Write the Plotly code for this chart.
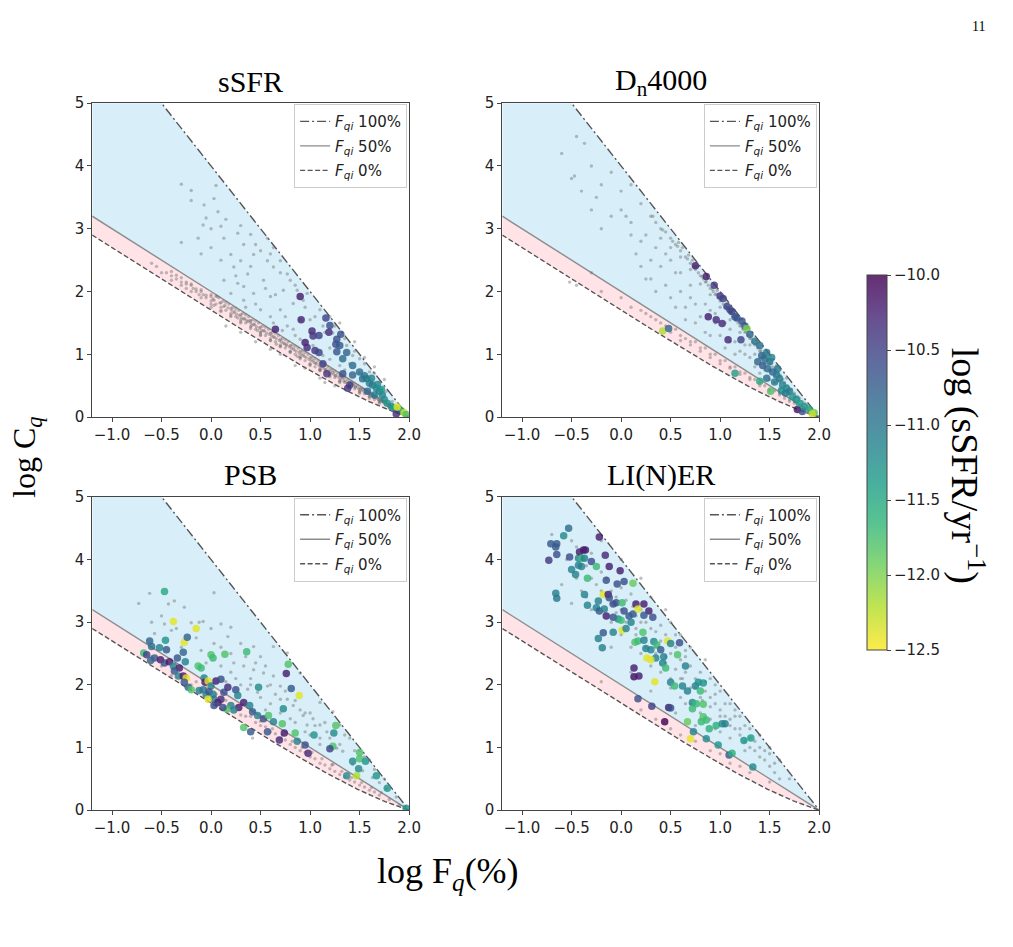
import numpy as np
import plotly.graph_objects as go

# ---------------- data ----------------
PANEL_TITLES = ["sSFR", "D<sub>n</sub>4000", "PSB", "LI(N)ER"]
X_TICKS = [-1.0, -0.5, 0.0, 0.5, 1.0, 1.5, 2.0]
Y_TICKS = [0, 1, 2, 3, 4, 5]
CBAR_TICKS = [-10.0, -10.5, -11.0, -11.5, -12.0, -12.5]
FQI_LABELS = ["100%", "50%", "0%"]

# background (all galaxies) points, panel sSFR
SSFR_BG = [(-0.3,3.71),(-0.2,3.61),(-0.2,3.45),(0.05,3.69),(0.03,3.48),(-0.05,3.17),(-0.08,3.06),(0.07,3.27),
           (0.1,3.04),(0.27,2.93),(0.4,2.91),(0.33,2.75),(0.2,2.59),(0.43,2.59),(0.5,2.65),(0.57,2.49),(0.63,2.39),
           (0.77,2.28),(0.8,2.18),(0.73,2.02),(0.53,2.18),(0.37,2.28),(0.27,2.13),(0.2,1.97),(0.33,1.86),(0.43,1.97),
           (0.6,1.92),(0.5,1.71),(0.7,1.71),(0.83,1.81),(0.93,1.86),(0.77,1.45),(0.83,1.40),(1.1,1.71),(1.13,1.45),
           (1.23,1.34),(1.3,1.5),(1.37,1.14),(1.43,0.98),(1.5,0.93),(1.6,0.72),(1.3,0.82),(1.13,0.98),(1.03,1.14),
           (0.9,1.24),(1.1,0.77),(1.7,0.56),(1.77,0.41),(1.83,0.25),(-0.3,2.78),(-0.13,2.85),(0.0,2.7),(0.13,2.85),
           (0.23,2.39),(0.3,2.49),(-0.07,3.38),(0.57,2.85),(0.63,2.7),(0.7,2.49),(0.87,2.02),(0.97,1.97),(0.5,1.34),
           (0.63,1.5),(0.33,2.08),(0.13,2.18),(1.2,1.6),(1.45,1.2),(1.55,0.85),(1.65,0.7),(1.0,1.55),
           (0.0,3.0),(0.15,3.15),(0.3,3.05),(0.45,2.75),(0.6,2.6),(0.7,2.3),(0.85,2.1),(0.95,1.75),(1.05,1.6),
           (1.15,1.35),(1.25,1.45),(1.35,1.25),(1.45,1.05),(1.55,0.95),(1.65,0.8),(1.75,0.6),(0.4,2.4),(0.55,2.05),
           (0.65,1.95),(0.75,1.6),(0.9,1.55),(1.0,1.35),(0.25,2.25),(0.1,2.5),(-0.1,2.6),(0.45,1.8),(0.6,1.6),
           (0.85,1.3),(1.2,1.1),(1.4,0.85),(1.6,0.6),(1.5,0.7),(1.35,0.75),(1.2,0.92),(0.35,1.75),(0.72,1.38),
           (-0.6,2.45),(-0.55,2.4),(-0.5,2.3),(-0.45,2.3),(-0.4,2.25),(-0.35,2.2),(-0.3,2.15),(-0.25,2.05),(-0.2,2.1),
           (-0.15,2.0),(-0.1,2.0),(-0.05,1.9),(0.0,1.85),(0.0,1.95),(0.05,1.8),(0.08,1.9),(0.1,1.75),(0.12,1.85),
           (0.15,1.7),(0.18,1.8),(0.2,1.65),(0.22,1.75),(0.25,1.6),(0.28,1.7),(0.3,1.55),(0.32,1.65),(0.35,1.5),
           (0.38,1.6),(0.4,1.5),(0.42,1.55),(0.45,1.4),(0.48,1.5),(0.5,1.35),(0.52,1.45),(0.55,1.3),(0.58,1.4),
           (0.6,1.25),(0.62,1.35),(0.65,1.2),(0.68,1.3),(0.7,1.15),(0.72,1.25),(0.75,1.1),(0.78,1.2),(0.8,1.05),
           (0.82,1.15),(0.85,1.0),(0.88,1.1),(0.9,0.95),(0.92,1.05),(0.95,0.9),(0.98,1.0),(1.0,0.85),(1.02,0.95),
           (1.05,0.8),(1.08,0.9),(1.1,0.75),(1.12,0.85),(1.15,0.72),(1.18,0.8),(1.2,0.68),(1.22,0.75),(1.25,0.63),
           (1.28,0.7),(1.3,0.58),(1.32,0.65),(1.35,0.55),(1.38,0.6),(1.4,0.5),(1.42,0.56),(1.45,0.45),(1.48,0.5),
           (1.5,0.4),(1.52,0.46),(1.55,0.37),(1.58,0.4),(1.6,0.33),(1.62,0.36),(1.65,0.28),(1.68,0.3),(1.7,0.24),
           (1.73,0.25),(1.76,0.2),(1.8,0.17),(1.84,0.13),(1.88,0.1),(1.92,0.06),(1.96,0.03),
           (0.15,1.45),(0.6,1.08),(0.85,0.82),(1.1,0.62),(1.15,0.55),(0.03,1.78),(0.27,1.58),(0.47,1.38),(0.66,1.16),
           (0.87,0.97),(1.06,0.86),(1.26,0.66),(1.46,0.48),(1.64,0.32),(-0.12,1.95),(0.36,1.54),(0.76,1.14),(1.16,0.76),
           (-0.25,2.15),(-0.18,2.05),(-0.08,1.95),(0.02,1.88),(0.06,1.92),(0.09,1.82),(0.14,1.78),(0.17,1.74),(0.21,1.7),
           (0.24,1.68),(0.26,1.64),(0.29,1.62),(0.31,1.58),(0.34,1.57),(0.37,1.52),(0.39,1.54),(0.41,1.46),(0.44,1.47),
           (0.46,1.44),(0.49,1.42),(0.51,1.38),(0.54,1.37),(0.56,1.34),(0.59,1.32),(0.61,1.3),(0.64,1.27),(0.66,1.25),
           (0.69,1.22),(0.71,1.2),(0.74,1.17),(0.76,1.16),(0.79,1.12),(0.81,1.1),(0.84,1.07),(0.86,1.05),(0.89,1.02),
           (0.91,1.0),(0.94,0.97),(0.96,0.95),(0.99,0.92),(1.01,0.9),(1.04,0.87),(1.06,0.85),(1.09,0.82),(1.11,0.8),
           (1.14,0.77),(1.16,0.75),(1.19,0.72),(1.21,0.7),(1.24,0.68),(1.26,0.66),(1.29,0.63),(1.31,0.61),(1.34,0.58),
           (1.36,0.57),(1.39,0.54),(1.41,0.52),(1.44,0.5),(1.46,0.48),(1.49,0.45),(1.51,0.43),(1.54,0.41),(1.56,0.39),
           (1.59,0.37),(1.61,0.35),(1.64,0.32),(1.66,0.31),(1.69,0.28),(1.71,0.27),(1.74,0.23),(1.78,0.21),(1.82,0.16),
           (1.86,0.12),(1.9,0.09),
           (0.0,1.75),(0.1,1.68),(0.2,1.62),(0.3,1.52),(0.4,1.44),(0.5,1.3),(0.6,1.22),(0.7,1.13),(0.8,1.04),(0.9,0.96),
           (1.0,0.82),(1.1,0.74),(1.2,0.64),(1.3,0.55),(1.4,0.47),(1.5,0.38),(1.6,0.3),(1.7,0.22),
           (0.05,1.93),(0.15,1.83),(0.25,1.73),(0.35,1.63),(0.45,1.53),(0.55,1.43),(0.65,1.33),(0.75,1.23),(0.85,1.13),
           (0.95,1.03),(1.05,0.93),(1.15,0.83),(1.25,0.73),(1.35,0.63),(1.45,0.53),(1.55,0.44),(1.65,0.34),(1.75,0.25),
           (0.3,1.35),(0.7,1.0),(0.95,0.78),(1.25,0.5),(0.45,1.2),
           (-0.4,2.32),(-0.4,2.18),(-0.3,2.22),(-0.3,2.1),(-0.2,2.12),(-0.2,2.0),(-0.1,2.03),(-0.1,1.9),(0.0,1.92),
           (0.0,1.8),(0.1,1.82),(0.1,1.7),(0.2,1.73),(0.2,1.6),(0.3,1.63),(0.3,1.5),(0.4,1.53),(0.4,1.41),(0.5,1.43),
           (0.5,1.31),(0.6,1.34),(0.6,1.22),(0.7,1.24),(0.7,1.12),(0.8,1.14),(0.8,1.03),(0.9,1.05),(0.9,0.93),
           (1.0,0.95),(1.0,0.84),(1.1,0.86),(1.1,0.75),(1.2,0.76),(1.2,0.66),(1.3,0.66),(1.3,0.57),(1.4,0.56),
           (1.4,0.49),(1.5,0.46),(1.5,0.41),(1.6,0.37),(1.6,0.33),(1.7,0.27),(1.7,0.25),(1.8,0.18),(1.8,0.16),
           (1.85,0.14),(1.85,0.12),
           (-0.35,2.26),(-0.25,2.12),(-0.15,2.04),(-0.05,1.94),(0.03,1.86),(0.13,1.76),(0.23,1.66),(0.33,1.56),
           (0.43,1.48),(0.53,1.38),(0.63,1.28),(0.73,1.18),(0.83,1.09),(0.93,0.99),(1.03,0.9),(1.13,0.8),(1.23,0.71),
           (1.33,0.62),(1.43,0.53),(1.53,0.44),(1.63,0.35),(1.73,0.26),(1.83,0.17)]

SSFR_COL = [(0.90,1.92,-10.2),(0.91,1.55,-10.25),(0.65,1.40,-10.2),(1.02,1.37,-10.3),(1.03,1.29,-10.4),(1.09,1.30,-10.5),
            (1.16,1.58,-10.5),(1.20,1.46,-10.6),(1.19,1.35,-10.3),(1.27,1.24,-10.6),(1.31,1.32,-10.6),(0.95,1.19,-10.2),
            (0.97,1.11,-10.3),(1.05,1.06,-10.4),(1.09,1.03,-10.5),(1.26,1.16,-10.6),(1.27,1.04,-10.7),(1.13,0.85,-10.5),
            (1.17,0.69,-10.4),(1.33,0.69,-10.6),(1.40,0.51,-10.5),(1.38,0.46,-10.4),(1.43,0.67,-10.8),(1.50,0.72,-10.9),
            (1.53,0.61,-10.9),(1.57,0.61,-11.0),(1.60,0.54,-11.1),(1.63,0.51,-11.0),(1.67,0.46,-11.1),(1.70,0.41,-11.2),
            (1.73,0.35,-11.1),(1.58,0.41,-10.8),(1.65,0.35,-11.0),(1.75,0.28,-11.2),(1.78,0.22,-11.3),(1.82,0.17,-11.2),
            (1.85,0.15,-11.4),(1.88,0.12,-11.3),(1.43,0.82,-10.9),(1.37,1.03,-10.8),(1.30,1.14,-10.7),(1.33,0.93,-10.9),
            (1.62,0.62,-11.1),(1.68,0.52,-11.2),(1.72,0.44,-11.3),(1.55,0.66,-11.0),(1.92,0.10,-11.5),(1.87,0.05,-10.3),
            (1.88,0.16,-12.4),(1.95,0.07,-12.3),(1.97,0.04,-11.8)]

DN_BG = [(0.3,3.2),(0.35,3.1),(0.4,3.0),(0.45,2.95),(0.5,2.85),(0.55,2.75),(0.6,2.65),(0.62,2.7),(0.65,2.55),(0.7,2.45),
         (0.72,2.5),(0.75,2.35),(0.78,2.3),(0.8,2.25),(0.83,2.2),(0.85,2.15),(0.88,2.1),(0.9,2.05),(0.93,2.0),(0.95,1.95),
         (0.98,1.9),(1.0,1.85),(1.03,1.8),(1.05,1.75),(1.08,1.7),(1.1,1.65),(1.13,1.6),(1.15,1.55),(1.18,1.5),(1.2,1.45),
         (1.23,1.4),(1.25,1.35),(1.28,1.3),(1.3,1.25),(1.33,1.2),(1.35,1.15),(1.38,1.1),(1.4,1.05),(1.43,1.0),(1.45,0.95),
         (1.48,0.9),(1.5,0.85),(1.53,0.8),(1.55,0.75),(1.58,0.7),(1.6,0.65),(1.65,0.55),(1.7,0.45),(1.75,0.38),(1.8,0.3),
         (1.85,0.22),(1.9,0.15),(0.58,2.78),(0.68,2.58),(0.77,2.4),(0.87,2.22),(0.97,2.02),(1.07,1.82),(1.17,1.62),
         (1.27,1.42),(1.37,1.22),(1.47,1.02),(1.57,0.82),(1.67,0.62),
         (0.32,3.2),(0.42,2.98),(0.52,2.8),(0.57,2.72),(0.67,2.52),(0.74,2.4),(0.82,2.24),(0.86,2.16),(0.92,2.04),
         (0.96,1.96),(1.01,1.86),(1.06,1.76),(1.11,1.66),(1.16,1.56),(1.21,1.46),(1.26,1.36),(1.31,1.26),(1.36,1.16),
         (1.41,1.06),(1.46,0.96),(1.51,0.86),(1.56,0.76),(1.61,0.66),(1.63,0.6),(1.68,0.5),(1.72,0.44),(1.78,0.33),
         (1.83,0.25),(1.88,0.18),(0.7,2.35),(0.8,2.12),(0.9,1.95),(1.0,1.75),(1.1,1.55),(1.2,1.35),(1.3,1.15),
         (1.4,0.95),(1.5,0.75),(1.6,0.58),(1.7,0.4),(0.6,2.55),(0.5,2.7),(0.4,2.85),
         (-0.5,3.8),(-0.25,3.5),(-0.1,3.9),(0.0,3.6),(-0.2,3.0),(0.05,3.2),(0.1,2.9),(0.2,3.4),(0.15,2.6),(0.3,2.5),
         (0.25,2.2),(0.4,2.4),(0.45,2.1),(0.55,2.3),(0.6,2.0),(0.5,1.9),(0.7,2.1),(0.75,1.8),(0.8,1.6),(0.9,1.7),
         (0.95,1.5),(1.0,1.3),(1.1,1.4),(1.15,1.2),(1.2,1.05),(1.3,0.95),(1.35,0.8),(1.4,0.7),(1.5,0.6),(1.6,0.45),
         (0.65,1.55),(0.85,1.35),(1.05,1.1),(0.35,2.0),(-0.3,3.3),(-0.4,3.6),(0.1,3.7),(-0.45,4.47),(-0.37,4.36),
         (-0.47,3.84),(0.2,2.8),(0.45,2.6),(1.25,1.15),(1.45,0.75),(1.55,0.55),
         (-0.6,4.2),(-0.3,4.0),(-0.2,3.7),(0.0,3.3),(0.1,3.1),(0.25,2.9),(0.35,2.7),(0.5,2.5),(0.6,2.3),(0.7,1.9),
         (0.85,1.8),(0.95,1.65),(1.05,1.5),(1.1,1.2),(1.25,1.0),(1.35,1.0),(1.45,0.85),(1.55,0.65),(0.55,1.75),
         (0.3,2.2),(0.2,2.4),(-0.1,3.2),(0.65,1.75),(0.75,1.5),(0.9,1.3),(1.15,1.0),
         (-0.3,2.3),(-0.2,2.0),(0.0,1.9),(0.1,1.75),(0.2,1.7),(0.3,1.6),(0.4,1.5),(0.45,1.45),(0.5,1.35),(0.55,1.4),
         (0.6,1.3),(0.65,1.25),(0.7,1.15),(0.75,1.2),(0.8,1.05),(0.85,1.1),(0.9,0.95),(0.95,1.0),(1.0,0.85),(1.05,0.9),
         (1.1,0.78),(1.15,0.8),(1.2,0.68),(1.25,0.7),(1.3,0.6),(1.35,0.6),(1.4,0.5),(1.45,0.5),(1.5,0.42),(1.55,0.42),
         (1.6,0.35),(1.65,0.3),(1.7,0.25),(1.75,0.22),(1.8,0.17),(1.85,0.12),(1.9,0.08),(-0.45,2.1),(-0.52,2.15),
         (0.25,1.65),(0.35,1.55),(0.6,1.22),(0.7,1.2),(0.8,1.1),(0.9,1.0),(1.0,0.9),(1.1,0.8),(1.2,0.72),(1.3,0.63),
         (1.4,0.55),(1.5,0.45),(1.6,0.38),(1.7,0.28),(1.75,0.25)]

DN_COL = [(0.75,2.41,-10.2),(0.86,2.24,-10.2),(0.94,2.10,-10.4),(1.00,1.93,-10.4),(1.03,1.89,-10.5),(1.07,1.76,-10.5),
          (1.10,1.71,-10.6),(1.12,1.68,-10.5),(1.15,1.60,-10.6),(1.17,1.58,-10.7),(1.22,1.53,-10.6),(1.25,1.45,-10.7),
          (1.27,1.41,-12.0),(1.30,1.32,-10.8),(1.35,1.21,-11.0),(1.40,1.14,-10.9),(0.88,1.60,-10.2),(0.96,1.55,-10.3),
          (1.02,1.49,-10.3),(1.08,1.23,-10.3),(1.21,1.23,-10.5),(0.42,1.37,-12.2),(0.48,1.41,-10.8),(1.15,0.70,-11.4),
          (1.40,0.57,-11.5),(1.51,0.41,-11.8),(1.78,0.12,-10.1),(1.83,0.09,-10.6),(1.42,0.98,-10.8),(1.45,0.93,-10.9),
          (1.43,0.82,-10.7),(1.48,0.77,-10.9),(1.50,0.88,-11.0),(1.53,0.72,-10.8),(1.57,0.67,-11.0),(1.60,0.61,-11.1),
          (1.55,0.56,-11.0),(1.63,0.51,-11.1),(1.67,0.46,-11.2),(1.70,0.41,-11.1),(1.73,0.33,-11.3),(1.77,0.28,-11.2),
          (1.80,0.22,-11.4),(1.85,0.17,-11.3),(1.90,0.12,-11.5),(1.95,0.07,-11.9),(1.47,1.03,-11.0),(1.52,0.95,-11.1),
          (1.38,0.88,-10.8),(1.58,0.77,-11.0),(1.47,0.62,-10.9),(1.62,0.42,-11.2),(1.66,0.38,-11.0),(1.93,0.05,-12.3)]

PSB_BG = [(-0.73,3.3),(-0.62,3.46),(-0.43,3.29),(-0.37,3.34),(-0.27,3.24),(-0.2,2.99),(-0.12,3.0),(-0.08,3.01),(0.03,3.47),
          (0.1,2.97),(0.2,2.92),(0.03,2.66),(0.17,2.77),(0.3,2.66),(0.43,2.61),(0.5,2.45),(0.23,2.35),(0.33,2.3),(0.43,2.24),
          (0.53,2.19),(0.63,2.14),(0.7,1.98),(0.57,1.98),(0.47,1.88),(0.37,1.93),(0.77,1.77),(0.83,1.67),(0.93,1.51),
          (1.03,1.46),(1.1,1.36),(1.17,1.25),(0.97,1.36),(1.1,1.15),(1.27,0.99),(1.33,0.94),(1.43,0.73),(1.53,0.63),
          (1.63,0.52),(1.7,0.44),(1.77,0.34),(1.87,0.21),(-0.4,2.87),(-0.57,2.82),(-0.47,2.97),(0.63,2.61),(0.77,2.51),
          (0.9,2.19),(0.8,1.46),(0.7,1.77),(1.1,1.72),(1.23,1.57),(1.3,1.36),(1.4,1.15),(1.23,0.73),(-0.1,2.55),
          (0.1,2.3),(0.25,2.1),(0.4,2.0),(0.6,1.7),(0.85,1.4),(1.0,1.2),(-0.3,2.6),(0.15,2.05),(0.55,1.6),(0.95,1.55),
          (1.5,0.95),(1.6,0.8),
          (-0.6,3.0),(-0.5,3.1),(-0.35,2.9),(-0.15,2.75),(0.0,2.9),(0.1,2.6),(0.2,2.5),(0.35,2.45),(0.45,2.35),
          (0.55,2.3),(0.6,2.0),(0.65,1.85),(0.75,1.9),(0.85,1.75),(0.9,1.6),(1.0,1.55),(1.05,1.35),(1.15,1.4),
          (1.2,1.15),(1.3,1.05),(1.35,1.2),(1.45,0.95),(1.55,0.85),(1.65,0.65),(1.75,0.5),(0.4,2.1),(0.2,2.2),
          (-0.05,2.35),(0.5,1.8),(0.3,2.0),(0.7,1.55),(0.95,1.25),(1.1,1.05),
          (-0.5,2.3),(-0.4,2.15),(-0.3,2.1),(-0.2,2.0),(-0.1,1.9),(0.0,1.8),(0.1,1.72),(0.2,1.62),
          (0.3,1.52),(0.35,1.5),(0.45,1.4),(0.5,1.35),(0.55,1.33),(0.6,1.25),(0.65,1.22),(0.7,1.15),(0.75,1.12),(0.8,1.05),
          (0.85,1.0),(0.9,0.95),(0.95,0.92),(1.0,0.85),(1.05,0.82),(1.1,0.75),(1.15,0.72),(1.2,0.66),(1.25,0.62),
          (1.3,0.57),(1.35,0.53),(1.4,0.48),(1.45,0.45),(1.5,0.4),(1.55,0.37),(1.6,0.32),(1.65,0.29),(1.7,0.24),
          (1.8,0.17),(1.9,0.08),(0.42,1.15),
          (-0.6,2.45),(-0.45,2.35),(-0.35,2.25),(-0.25,2.15),(-0.15,2.05),(-0.05,1.95),(0.05,1.85),(0.15,1.75),
          (0.25,1.65),(0.4,1.5),(0.5,1.42),(0.62,1.3),(0.72,1.2),(0.82,1.1),(0.92,1.0),(1.02,0.92),(1.12,0.82),
          (1.22,0.72),(1.32,0.62),(1.42,0.52),(1.52,0.44),(1.62,0.36),(1.72,0.28)]

PSB_COL = [(-0.47,3.49,-11.5),(-0.38,3.01,-12.4),(-0.15,2.90,-12.4),(-0.27,2.68,-12.4),(-0.46,2.71,-11.3),(-0.24,2.76,-10.8),
           (-0.62,2.70,-10.8),(-0.60,2.61,-10.9),(-0.52,2.59,-11.1),(-0.45,2.56,-10.7),(-0.68,2.51,-11.7),(-0.65,2.48,-10.5),
           (-0.57,2.43,-10.7),(-0.61,2.39,-10.8),(-0.51,2.40,-10.2),(-0.47,2.35,-10.6),(-0.42,2.37,-10.2),(-0.38,2.30,-11.1),
           (-0.34,2.43,-10.7),(-0.28,2.52,-10.8),(-0.26,2.37,-11.1),(-0.32,2.27,-10.2),(-0.37,2.22,-10.7),(-0.33,2.14,-11.1),
           (-0.28,2.14,-10.2),(-0.25,2.11,-12.4),(-0.27,2.04,-10.7),(-0.23,1.96,-10.8),(-0.20,1.92,-11.8),(-0.13,2.30,-11.8),
           (-0.10,2.27,-11.7),(0.00,2.48,-11.8),(0.02,2.43,-11.7),(0.14,2.49,-11.8),(0.36,2.53,-11.7),(-0.07,2.11,-11.1),
           (-0.06,2.04,-10.2),(-0.03,2.06,-12.4),(0.00,1.98,-11.1),(0.05,2.06,-10.2),(0.10,2.09,-10.6),(-0.12,1.91,-11.1),
           (-0.08,1.92,-11.0),(-0.05,1.84,-11.1),(-0.02,1.89,-10.6),(0.02,1.85,-11.1),(0.03,1.77,-11.0),(0.07,1.72,-10.2),
           (0.10,1.77,-10.3),(0.13,1.88,-10.6),(0.17,1.96,-10.3),(0.25,1.92,-10.6),(0.27,1.83,-11.1),(0.28,1.64,-10.2),
           (0.20,1.67,-11.1),(0.23,1.60,-11.1),(0.16,1.61,-11.8),(0.12,1.64,-10.6),(-0.03,1.77,-12.4),(0.03,1.67,-10.6),
           (0.33,1.72,-10.2),(0.39,1.67,-11.1),(0.42,1.57,-10.7),(0.47,1.51,-11.1),(0.53,1.46,-10.6),(0.48,1.96,-11.2),
           (0.33,1.32,-11.8),(0.40,1.25,-10.7),(0.57,1.25,-10.7),(0.58,1.51,-11.8),(0.63,1.41,-11.1),(0.72,1.38,-11.8),
           (0.76,2.18,-10.2),(0.78,2.33,-11.8),(0.81,1.94,-10.7),(0.89,1.83,-12.4),(0.73,1.62,-11.2),(0.74,1.23,-10.2),
           (0.69,1.12,-10.3),(0.85,1.23,-11.8),(0.87,1.10,-11.1),(0.95,1.04,-10.6),(0.98,0.91,-10.3),(1.04,1.20,-11.3),
           (1.24,1.23,-11.2),(1.26,1.35,-11.8),(1.23,1.02,-11.8),(1.20,0.98,-10.5),(1.43,0.78,-11.2),(1.50,0.92,-11.8),
           (1.50,0.82,-11.8),(1.56,0.78,-11.3),(1.49,0.66,-11.2),(1.47,0.55,-12.2),(1.37,0.55,-11.2),(1.67,0.55,-11.3),
           (1.78,0.35,-11.3),(1.97,0.03,-11.3)]

LINER_BG = [(-0.55,4.0),(-0.45,4.2),(-0.35,3.9),(-0.3,4.1),(-0.2,3.8),(-0.25,3.6),(-0.15,3.7),(-0.1,3.5),(-0.05,3.4),
            (0.0,3.55),(0.05,3.35),(0.1,3.45),(0.15,3.1),(0.2,3.2),(0.25,3.0),(0.3,2.9),(0.35,2.85),(0.4,2.95),(0.45,2.8),
            (0.5,2.5),(0.55,2.6),(0.6,2.4),(0.65,2.2),(0.7,2.3),(0.75,2.1),(0.8,2.2),(0.85,1.9),(0.9,1.8),(0.95,1.7),
            (1.0,1.6),(1.05,1.5),(1.1,1.45),(1.15,1.3),(1.2,1.2),(1.25,1.1),(1.3,1.0),(1.35,0.95),(1.4,0.85),(1.45,0.8),
            (1.5,0.7),(1.55,0.6),(1.6,0.5),(-0.1,3.0),(0.0,2.8),(0.1,2.6),(0.2,2.5),(0.3,2.3),(0.4,2.2),(0.5,2.1),
            (0.6,1.8),(0.7,1.7),(0.8,1.55),(0.9,1.45),(1.0,1.25),(1.1,1.15),(-0.4,3.5),(-0.5,3.3),(-0.3,3.2),(-0.6,3.6),
            (0.2,3.7),(0.0,4.0),(-0.2,4.3),(0.3,3.4),(0.5,3.0),(0.6,2.8),(0.7,2.6),(0.9,2.1),(1.0,1.9),(1.2,1.5),
            (1.3,1.3),(1.4,1.2),(1.5,1.0),(1.6,0.8),(1.7,0.5),(1.1,1.7),(0.85,2.4),(0.45,3.2),(-0.1,2.6),(0.1,2.2),
            (0.3,1.9),(0.55,1.55),(0.75,1.35),(-0.7,4.4),(0.15,2.9),(0.35,2.6),(0.65,2.45),(0.95,2.0),(1.15,1.6),
            (0.25,2.75),(0.45,2.45),(0.75,1.95),(1.05,1.35),(1.25,0.95),(-0.05,3.15),(0.12,3.25),(0.62,2.1),(0.82,1.75),
            (-0.5,4.3),(-0.4,4.0),(-0.3,3.7),(-0.2,3.5),(-0.1,3.3),(0.0,3.2),(0.05,3.0),(0.15,2.8),(0.25,2.6),
            (0.35,2.5),(0.45,2.35),(0.55,2.25),(0.6,2.1),(0.7,1.95),(0.8,1.8),(0.9,1.65),(1.0,1.5),(1.1,1.35),
            (1.2,1.3),(1.3,1.15),(1.4,1.0),(1.5,0.9),(1.55,0.75),(-0.45,3.7),(-0.35,3.4),(0.2,3.0),(0.4,2.7),
            (0.55,2.8),(0.65,2.55),(0.85,2.05),(0.95,1.85),(1.05,1.7),(1.15,1.5),(1.25,1.35),(1.35,1.1),(1.45,0.95),
            (0.5,1.95),(0.65,1.7),(0.8,1.45),(0.95,1.3),
            (0.2,1.6),(0.5,1.3),(0.6,1.2),(0.75,1.1),(0.9,0.95),(1.0,0.9),(1.1,0.75),(1.3,0.6),(1.5,0.45),(1.2,0.7),
            (0.35,1.45),(-0.2,2.05)]

LINER_COL = [(-0.53,4.50,-10.9),(-0.58,4.38,-11.2),(-0.71,4.25,-10.7),(-0.65,4.25,-10.7),(-0.66,4.20,-10.7),(-0.73,3.99,-10.4),
             (-0.65,4.08,-10.6),(-0.52,4.04,-10.6),(-0.43,4.02,-11.1),(-0.42,4.12,-10.2),(-0.38,4.15,-10.2),(-0.36,4.15,-10.2),
             (-0.40,4.02,-11.7),(-0.37,4.02,-11.1),(-0.30,3.97,-10.6),(-0.22,4.36,-10.2),(-0.16,4.07,-10.3),(-0.12,3.89,-10.2),
             (-0.25,3.89,-11.7),(-0.43,3.91,-11.1),(-0.40,3.89,-11.1),(-0.50,3.84,-11.1),(-0.46,3.76,-11.1),(-0.34,3.70,-11.7),
             (-0.15,3.67,-10.6),(-0.01,3.82,-10.2),(0.03,3.65,-10.6),(-0.04,3.61,-10.6),(0.12,3.62,-11.9),(-0.66,3.46,-11.1),
             (-0.65,3.38,-11.0),(-0.37,3.44,-11.1),(-0.34,3.27,-11.1),(-0.23,3.34,-11.1),(-0.18,3.44,-12.4),(-0.13,3.44,-10.2),
             (-0.12,3.39,-10.6),(-0.25,3.23,-11.1),(-0.22,3.18,-10.7),(-0.17,3.21,-11.1),(-0.08,3.29,-10.6),(-0.05,3.31,-10.6),
             (0.01,3.31,-11.7),(0.03,3.18,-10.6),(0.08,3.10,-10.7),(0.12,3.13,-10.7),(0.15,3.29,-10.2),(0.17,3.21,-12.4),
             (0.23,3.29,-10.2),(0.28,3.18,-10.2),(0.32,3.08,-10.6),(0.23,3.11,-10.7),(-0.15,3.10,-10.2),(-0.08,3.08,-10.6),
             (-0.03,3.05,-11.1),(0.00,3.03,-11.7),(0.10,3.00,-11.1),(0.01,2.87,-12.4),(0.05,2.90,-11.1),(-0.08,2.84,-11.1),
             (-0.18,2.83,-10.7),(-0.23,2.74,-11.1),(-0.19,2.59,-11.1),(0.14,2.68,-11.8),(0.17,2.70,-11.7),(0.22,2.84,-11.8),
             (0.23,2.71,-11.1),(0.25,2.58,-11.1),(0.30,2.56,-11.1),(0.33,2.69,-11.2),(0.36,2.64,-11.7),(0.40,2.56,-10.7),
             (0.43,2.45,-11.1),(0.47,2.70,-12.4),(0.50,2.66,-11.1),(0.59,2.67,-10.6),(0.57,2.48,-11.8),(0.65,2.30,-11.1),
             (0.35,2.43,-11.1),(0.30,2.40,-12.4),(0.26,2.43,-12.4),(0.42,2.35,-11.1),(0.45,2.27,-11.7),(0.13,2.27,-10.2),
             (0.13,2.13,-10.1),(0.18,2.14,-10.2),(0.34,2.05,-12.4),(0.50,2.04,-11.1),(0.54,1.98,-11.7),(0.62,1.98,-11.1),
             (0.67,1.90,-11.1),(0.75,1.98,-11.1),(0.78,2.04,-11.2),(0.83,2.03,-11.3),(0.80,1.90,-11.7),(0.72,1.72,-11.2),
             (0.76,1.70,-11.7),(0.83,1.69,-11.8),(0.72,1.62,-11.7),(0.17,1.78,-10.6),(0.31,1.66,-10.5),(0.48,1.64,-10.2),
             (0.50,1.63,-10.6),(0.44,1.41,-10.0),(0.67,1.41,-11.9),(0.81,1.41,-11.7),(0.83,1.49,-11.8),(0.86,1.44,-11.7),
             (0.89,1.30,-11.6),(0.96,1.35,-11.6),(1.02,1.38,-11.2),(1.05,1.38,-11.1),(0.73,1.25,-11.1),(0.70,1.14,-12.4),
             (0.86,1.14,-11.2),(0.98,1.04,-11.3),(1.09,0.88,-10.7),(1.12,0.91,-11.6),(1.24,1.11,-11.3),(1.31,1.15,-11.4),
             (1.33,0.69,-11.2)]

BG = [SSFR_BG, DN_BG, PSB_BG, LINER_BG]
COL = [SSFR_COL, DN_COL, PSB_COL, LINER_COL]

# ---------------- model curves ----------------
XGRID = np.linspace(-1.2, 2.0, 161)
F = 10 ** XGRID / 100.0
C100 = np.log10(1.0 / F ** 2)
C50 = np.log10(1.0 / F)
C0 = np.log10(0.5 / F + 0.5)

# ---------------- layout geometry ----------------
W, H = 1013, 947
XDOM = [(93.3 / W, 414.0 / W), (508.3 / W, 829.0 / W)] * 2
YDOM = [(1 - 416 / H, 1 - 96 / H)] * 2 + [(1 - 816.7 / H, 1 - 497.3 / H)] * 2
LEG_POS = [(412 / W, 1 - 97 / H), (826.7 / W, 1 - 97 / H), (412 / W, 1 - 498 / H), (826.7 / W, 1 - 498 / H)]
TITLE_Y = [1 - 74 / H, 1 - 74 / H, 1 - 475 / H, 1 - 475 / H]

VIRIDIS = ["#440154", "#482878", "#3e4989", "#31688e", "#26828e", "#1f9e89", "#35b779", "#6ece58", "#b5de2b", "#fde725"]


def hex_rgba(h, a):
    h = h.lstrip("#")
    return "rgba(%d,%d,%d,%.2f)" % (int(h[0:2], 16), int(h[2:4], 16), int(h[4:6], 16), a)


CSCALE = [[i / (len(VIRIDIS) - 1), hex_rgba(c, 0.82)] for i, c in enumerate(VIRIDIS[::-1])]

LINE_STYLES = [dict(color="#555555", width=1.4, dash="9px,3px,2px,3px"),
               dict(color="#8c8c8c", width=1.4, dash="solid"),
               dict(color="#555555", width=1.4, dash="5px,2.5px")]
CURVES = [C100, C50, C0]

fig = go.Figure()
for i in range(4):
    xa = "x" if i == 0 else "x%d" % (i + 1)
    ya = "y" if i == 0 else "y%d" % (i + 1)
    leg = "legend" if i == 0 else "legend%d" % (i + 1)
    fig.add_trace(go.Scatter(x=np.concatenate([XGRID, XGRID[::-1]]), y=np.concatenate([C100, C50[::-1]]),
                             fill="toself", fillcolor="rgba(135,206,235,0.32)", line=dict(width=0),
                             mode="lines", hoverinfo="skip", showlegend=False, xaxis=xa, yaxis=ya))
    fig.add_trace(go.Scatter(x=np.concatenate([XGRID, XGRID[::-1]]), y=np.concatenate([C50, C0[::-1]]),
                             fill="toself", fillcolor="rgba(255,182,193,0.38)", line=dict(width=0),
                             mode="lines", hoverinfo="skip", showlegend=False, xaxis=xa, yaxis=ya))
    for k in range(3):
        fig.add_trace(go.Scatter(x=XGRID, y=CURVES[k], mode="lines", line=LINE_STYLES[k],
                                 name="<i>F<sub>qi</sub></i> " + FQI_LABELS[k], legend=leg,
                                 legendgroup="p%d_%d" % (i, k), showlegend=True, xaxis=xa, yaxis=ya))
    bx, by = zip(*BG[i])
    fig.add_trace(go.Scatter(x=bx, y=by, mode="markers", marker=dict(size=3.4, color="rgba(105,105,105,0.42)"),
                             showlegend=False, xaxis=xa, yaxis=ya))
    cx, cy, cv = zip(*COL[i])
    fig.add_trace(go.Scatter(x=cx, y=cy, mode="markers",
                             marker=dict(size=7.5, color=cv, coloraxis="coloraxis", line=dict(width=0)),
                             showlegend=False, xaxis=xa, yaxis=ya))

axis_common = dict(showline=True, mirror=True, linecolor="#444444", linewidth=1, ticks="outside", ticklen=4,
                   tickcolor="#444444", tickwidth=1, showgrid=False, zeroline=False,
                   tickfont=dict(family="DejaVu Sans", size=15, color="#222222"))
layout = dict(width=W, height=H, margin=dict(l=0, r=0, t=0, b=0), paper_bgcolor="white", plot_bgcolor="white",
              font=dict(family="DejaVu Sans"))
for i in range(4):
    xs = "xaxis" if i == 0 else "xaxis%d" % (i + 1)
    ys = "yaxis" if i == 0 else "yaxis%d" % (i + 1)
    xa = "x" if i == 0 else "x%d" % (i + 1)
    ya = "y" if i == 0 else "y%d" % (i + 1)
    layout[xs] = dict(axis_common, domain=XDOM[i], range=[-1.2, 2.0], tickvals=X_TICKS, tickformat=".1f", anchor=ya)
    layout[ys] = dict(axis_common, domain=YDOM[i], range=[0, 5], tickvals=Y_TICKS, anchor=xa)
    leg = "legend" if i == 0 else "legend%d" % (i + 1)
    layout[leg] = dict(x=LEG_POS[i][0], y=LEG_POS[i][1], xanchor="right", yanchor="top",
                       bgcolor="rgba(255,255,255,0.85)", bordercolor="#cccccc", borderwidth=1,
                       font=dict(family="DejaVu Sans", size=15, color="#222222"),
                       traceorder="grouped", tracegroupgap=2, itemwidth=30)

layout["coloraxis"] = dict(colorscale=CSCALE, cmin=-12.5, cmax=-10.0,
                           colorbar=dict(x=877 / W, xanchor="left", xpad=0, y=1 - 462.5 / H, yanchor="middle",
                                         ypad=0, len=375, lenmode="pixels", thickness=20, outlinewidth=1,
                                         outlinecolor="#444444", ticks="outside", ticklen=4, tickcolor="#444444",
                                         tickvals=CBAR_TICKS, tickformat=".1f",
                                         tickfont=dict(family="DejaVu Sans", size=15, color="#222222")))

ann = []
for i in range(4):
    ann.append(dict(text=PANEL_TITLES[i], x=(XDOM[i][0] + XDOM[i][1]) / 2, y=TITLE_Y[i], xref="paper", yref="paper",
                    showarrow=False, xanchor="center", yanchor="middle",
                    font=dict(family="Liberation Serif", size=30, color="black")))
ann.append(dict(text="log C<sub><i>q</i></sub>", x=27 / W, y=1 - 457 / H, xref="paper", yref="paper", showarrow=False,
                textangle=-90, xanchor="center", yanchor="middle",
                font=dict(family="Liberation Serif", size=32, color="black")))
ann.append(dict(text="log F<sub><i>q</i></sub>(%)", x=453 / W, y=1 - 881 / H, xref="paper", yref="paper",
                showarrow=False, xanchor="center", yanchor="middle",
                font=dict(family="Liberation Serif", size=36, color="black")))
ann.append(dict(text="log (sSFR/yr<sup>\u22121</sup>)", x=979 / W, y=1 - 466 / H, xref="paper", yref="paper",
                showarrow=False, textangle=90, xanchor="center", yanchor="middle",
                font=dict(family="Liberation Serif", size=38, color="black")))
ann.append(dict(text="11", x=990 / W, y=1 - 18 / H, xref="paper", yref="paper", showarrow=False,
                xanchor="center", yanchor="middle", font=dict(family="Liberation Serif", size=14, color="black")))
layout["annotations"] = ann

fig.update_layout(**layout)
fig.write_html("out.html")
